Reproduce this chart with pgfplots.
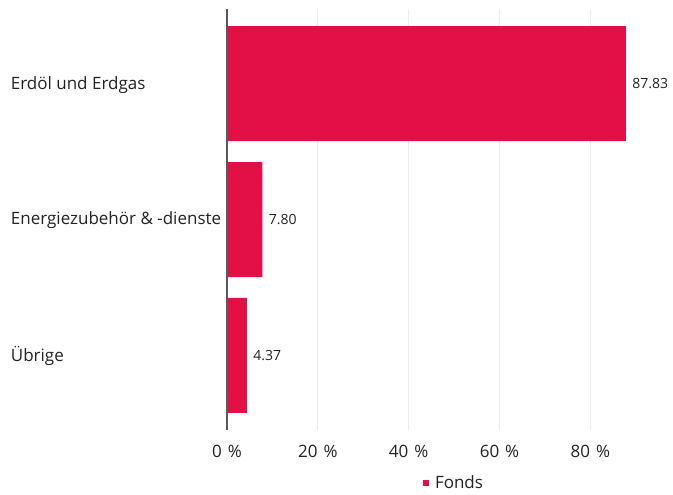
\documentclass[border=0pt]{standalone}
\usepackage{fontspec}
\setmainfont{Open Sans}
\usepackage{pgfplots}
\pgfplotsset{compat=1.18}
\definecolor{bar}{HTML}{E30F47}
\definecolor{txt}{HTML}{222222}
\begin{document}
\begin{tikzpicture}[x=1pt,y=1pt]
\path[use as bounding box] (0,0) rectangle (673,495);
\begin{axis}[
  at={(227pt,65pt)}, anchor=south west,
  scale only axis, width=446pt, height=421pt,
  xbar, bar width=115pt,
  xmin=0, xmax=98.2, ymin=-0.55, ymax=2.55, y dir=reverse,
  ytick={0,1,2},
  yticklabels={Erdöl und Erdgas, Energiezubehör \& -dienste, Übrige},
  xtick={0,20,40,60,80},
  xticklabels={0\hspace{6pt}\%,20\hspace{6pt}\%,40\hspace{6pt}\%,60\hspace{6pt}\%,80\hspace{6pt}\%},
  axis line style={draw=none},
  tick style={draw=none},
  xmajorgrids, grid style={color=black!7, line width=1pt},
  xticklabel style={font=\fontsize{17}{20}\selectfont, text=txt, inner sep=0pt, yshift=-15pt},
  yticklabel style={font=\fontsize{17}{20}\selectfont, text=txt, anchor=west, inner sep=0pt, xshift=-212pt, yshift=-1pt},
  point meta=x,
  nodes near coords={\pgfmathprintnumber[fixed,precision=2,fixed zerofill,assume math mode=true]{\pgfplotspointmeta}},
  nodes near coords style={anchor=west, font=\fontsize{14}{16}\selectfont, text=txt, xshift=3pt},
  legend style={at={(0.509,0)}, anchor=center, yshift=-53pt, draw=none, fill=none,
    font=\fontsize{17}{20}\selectfont, text=txt},
  legend image code/.code={\fill[bar] (0pt,-3pt) rectangle (6pt,3pt);},
  legend cell align=left,
  clip=false,
]
\addplot[fill=bar, draw=none] coordinates {(87.83,0) (7.80,1) (4.37,2)};
\addlegendentry{\hspace{4pt}Fonds}
\draw[color=black!65, line width=1.5pt] (rel axis cs:0,0) -- (rel axis cs:0,1);
\end{axis}
\end{tikzpicture}
\end{document}
